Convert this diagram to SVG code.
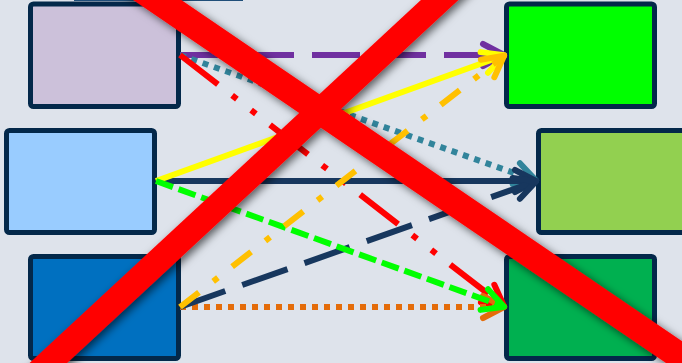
<svg xmlns="http://www.w3.org/2000/svg" width="682" height="363" viewBox="0 0 682 363">
  <style>
    .node { stroke: #03284a; stroke-width: 5; }
    .conn { fill: none; stroke-width: 6; stroke-linecap: butt; }
    .head { fill: none; stroke-width: 6; stroke-linecap: round; stroke-linejoin: round; stroke-dasharray: none; }
    .cross { stroke: #ff0000; stroke-linecap: butt; fill: none; }
  </style>
  <defs>
    <filter id="shadow" filterUnits="userSpaceOnUse" x="-50" y="-50" width="800" height="480">
      <feDropShadow dx="3" dy="3" stdDeviation="4" flood-color="#000" flood-opacity="0.6"/>
    </filter>
    <marker id="a-purple" markerUnits="userSpaceOnUse" orient="auto" overflow="visible" markerWidth="1" markerHeight="1">
      <path class="head" stroke="#7030a0" d="M-22,-11 L-1,0 L-22,11"/>
    </marker>
    <marker id="a-teal" markerUnits="userSpaceOnUse" orient="auto" overflow="visible" markerWidth="1" markerHeight="1">
      <path class="head" stroke="#31849b" d="M-22,-11 L-1,0 L-22,11"/>
    </marker>
    <marker id="a-yellow" markerUnits="userSpaceOnUse" orient="auto" overflow="visible" markerWidth="1" markerHeight="1">
      <path class="head" stroke="#ffff00" d="M-22,-11 L-1,0 L-22,11"/>
    </marker>
    <marker id="a-navy" markerUnits="userSpaceOnUse" orient="auto" overflow="visible" markerWidth="1" markerHeight="1">
      <path class="head" stroke="#17375e" d="M-22,-11 L-1,0 L-22,11"/>
    </marker>
    <marker id="a-green" markerUnits="userSpaceOnUse" orient="auto" overflow="visible" markerWidth="1" markerHeight="1">
      <path class="head" stroke="#00ff00" d="M-22,-11 L-1,0 L-22,11"/>
    </marker>
    <marker id="a-red" markerUnits="userSpaceOnUse" orient="auto" overflow="visible" markerWidth="1" markerHeight="1">
      <path class="head" stroke="#ff0000" d="M-22,-11 L-1,0 L-22,11"/>
    </marker>
    <marker id="a-gold" markerUnits="userSpaceOnUse" orient="auto" overflow="visible" markerWidth="1" markerHeight="1">
      <path class="head" stroke="#ffc000" d="M-22,-11 L-1,0 L-22,11"/>
    </marker>
    <marker id="a-orange" markerUnits="userSpaceOnUse" orient="auto" overflow="visible" markerWidth="1" markerHeight="1">
      <path class="head" stroke="#e46c0a" d="M-22,-11 L-1,0 L-22,11"/>
    </marker>
  </defs>

  <rect x="0" y="0" width="682" height="363" fill="#dee3eb"/>

  <g id="node-top-partial">
    <rect x="74" y="-3" width="169" height="4" fill="#1f4e79"/>
  </g>

  <g id="node-left-top"><rect class="node" x="30.5" y="4" width="148" height="102.5" rx="3" fill="#ccc1da"/></g>
  <g id="node-left-middle"><rect class="node" x="6.5" y="130.5" width="148" height="102" rx="3" fill="#99ccff"/></g>
  <g id="node-left-bottom"><rect class="node" x="30.5" y="256.5" width="148" height="102" rx="3" fill="#0070c0"/></g>
  <g id="node-right-top"><rect class="node" x="506.5" y="4" width="148" height="102.5" rx="3" fill="#00ff00"/></g>
  <g id="node-right-middle"><rect class="node" x="538.5" y="130.5" width="148" height="102" rx="3" fill="#92d050"/></g>
  <g id="node-right-bottom"><rect class="node" x="506.5" y="256.5" width="148" height="102" rx="3" fill="#00b050"/></g>

  <g id="connectors">
    <line class="conn" x1="180" y1="55" x2="505" y2="55" stroke="#7030a0" stroke-dasharray="48 18" marker-end="url(#a-purple)"/>
    <line class="conn" x1="180" y1="55" x2="537" y2="181" stroke="#31849b" stroke-dasharray="6 6" marker-end="url(#a-teal)"/>
    <line class="conn" x1="180" y1="55" x2="505" y2="307" stroke="#ff0000" stroke-dasharray="48 18 6 18 6 18" marker-end="url(#a-red)"/>
    <line class="conn" x1="180" y1="307" x2="505" y2="307" stroke="#e46c0a" stroke-dasharray="6 6" marker-end="url(#a-orange)"/>
    <line class="conn" x1="156" y1="181" x2="537" y2="181" stroke="#17375e" stroke-width="3" marker-end="url(#a-navy)"/>
    <line class="conn" x1="156" y1="181" x2="505" y2="55" stroke="#ffff00" marker-end="url(#a-yellow)"/>
    <line class="conn" x1="180" y1="307" x2="537" y2="181" stroke="#17375e" stroke-dasharray="48 18" marker-end="url(#a-navy)"/>
    <line class="conn" x1="156" y1="181" x2="505" y2="307" stroke="#00ff00" stroke-dasharray="18 6" marker-end="url(#a-green)"/>
    <line class="conn" x1="180" y1="307" x2="505" y2="55" stroke="#ffc000" stroke-dasharray="24 18 6 18" marker-end="url(#a-gold)"/>
  </g>

  <g id="cross" filter="url(#shadow)">
    <line class="cross" x1="128" y1="-20" x2="712" y2="378" stroke-width="27"/>
    <line class="cross" x1="472" y1="-30" x2="16" y2="393" stroke-width="25.5"/>
  </g>
</svg>
